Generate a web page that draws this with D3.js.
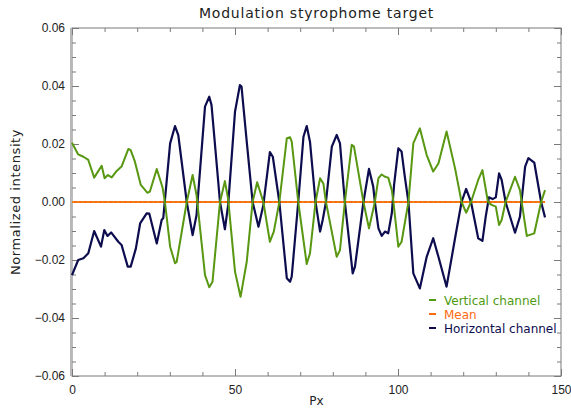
<!DOCTYPE html>
<html>
<head>
<meta charset="utf-8">
<script src="https://cdn.jsdelivr.net/npm/d3@7"></script>
<style>
	body { margin: 0; background: #fff; }
	svg { display: block; font-family: "DejaVu Sans", sans-serif; }
</style>
</head>
<body>
<svg></svg>
<script>
var WIDTH = 571;
var HEIGHT = 409;
var margin = {top: 28, right: 10, bottom: 33, left: 72};

// vertical channel (green)
var vertPx = [0, 1.9, 3.5, 5.0, 6.8, 9.1, 10.0, 11.0, 12.2, 13.7, 15.2, 17.3, 18.0, 19.3, 21.1, 23.1, 23.9, 26.0, 27.8, 28.5,
	30.1, 31.6, 32.1, 35.2, 37.0, 38.2, 40.8, 42.1, 43.1, 45.4, 46.9, 47.9, 50.0, 51.7, 53.6, 55.4, 56.8, 58.7, 60.7, 61.9,
	63.6, 65.9, 66.9, 67.4, 69.4, 72.0, 73.0, 74.7, 76.1, 77.1, 77.9, 81.2, 82.2, 83.7, 85.8, 86.5, 89.4, 91.1, 92.9, 94.0,
	95.0, 96.0, 97.0, 98.1, 98.6, 100.1, 101.1, 103.2, 104.7, 106.7, 108.8, 110.8, 112.4, 114.9, 117.5, 119.5, 120.9, 122.4,
	124.6, 125.9, 127.6, 128.7, 130.0, 131.0, 131.8, 133.0, 135.9, 137.4, 139.5, 141.8, 143.9, 145.1];
var vertVal = [0.0204, 0.0164, 0.0156, 0.0145, 0.0084, 0.0125, 0.0082, 0.0093, 0.0085, 0.0107, 0.0122, 0.0183, 0.0179, 0.0139, 0.0059, 0.0032, 0.0036, 0.0114, 0.0049, 0,
	-0.0154, -0.0211, -0.0207, 0, 0.0093, 0.0024, -0.0252, -0.0294, -0.0275, 0, 0.0072, 0.001, -0.024, -0.0327, -0.0206, 0, 0.0068, 0, -0.0137, -0.0102,
	0, 0.022, 0.0223, 0.0208, 0, -0.0214, -0.0177, 0, 0.0082, 0.0064, 0, -0.0189, -0.0166, 0, 0.0197, 0.0191, 0, -0.0091, 0, 0.0082,
	0.0095, 0.0087, 0.0084, 0.0041, 0, -0.0154, -0.0137, 0, 0.0202, 0.0254, 0.0162, 0.0105, 0.0133, 0.0243, 0.0116, 0, -0.0037, 0,
	0.0076, 0.011, 0, -0.001, -0.0016, -0.0079, -0.0062, 0, 0.0087, 0.0041, -0.0117, -0.0108, 0, 0.0041];

// horizontal channel (navy)
var horzPx = [0, 1.9, 3.5, 5.0, 6.8, 8.9, 9.9, 10.9, 12.0, 14.2, 15.2, 17.1, 18.0, 19.6, 20.9, 22.9, 23.7, 26.0, 27.5, 28.0,
	30.1, 31.6, 32.6, 35.2, 37.0, 38.2, 40.8, 42.1, 42.8, 45.4, 46.9, 47.9, 50.0, 51.5, 52.0, 53.6, 55.4, 57.2, 58.7, 60.7,
	61.6, 63.6, 65.9, 66.9, 67.4, 69.4, 71.0, 72.0, 73.0, 74.7, 76.1, 76.9, 77.9, 79.7, 81.2, 82.2, 83.7, 86.1, 86.8, 89.4,
	91.1, 92.4, 92.9, 94.0, 95.0, 96.0, 97.0, 98.1, 98.8, 100.1, 101.1, 102.1, 103.2, 104.7, 106.7, 108.8, 110.8, 112.4, 114.9,
	117.5, 119.5, 120.9, 122.4, 124.6, 125.9, 126.9, 127.9, 129.0, 130.0, 131.0, 131.8, 133.0, 135.9, 137.4, 139.0, 140.0,
	141.8, 143.9, 145.1];
var horzVal = [-0.0252, -0.020, -0.0194, -0.0177, -0.010, -0.0154, -0.0097, -0.0117, -0.0105, -0.0137, -0.0148, -0.0223, -0.0223, -0.016, -0.0074, -0.0039, -0.004, -0.0143, -0.0062, -0.0055,
	0.0202, 0.0262, 0.0231, 0, -0.0114, -0.0045, 0.0329, 0.0363, 0.0334, 0, -0.0094, -0.001, 0.0311, 0.0403, 0.0398, 0.0208, 0, -0.0085, -0.001, 0.0172,
	0.0156, 0, -0.0263, -0.0275, -0.0257, 0, 0.0225, 0.0262, 0.0208, 0, -0.0102, -0.0062, 0, 0.0191, 0.0231, 0.0202, 0, -0.0246, -0.0223, 0,
	0.0114, 0.0053, 0, -0.0091, -0.0117, -0.0102, -0.0108, -0.0039, 0.0059, 0.0185, 0.0174, 0.0087, 0, -0.0246, -0.0298, -0.0189, -0.0125, -0.0189, -0.0292,
	-0.0125, 0, 0.0045, 0, -0.0125, -0.0134, -0.0051, 0.0016, 0.001, 0.0016, 0.0099, 0.0076, 0, -0.0106, -0.0051, 0.0122, 0.0151,
	0.0136, 0, -0.0053];

// mean (orange)
var meanPx = [0, 145.1];
var meanVal = [0, 0];

var xMajorTicks = [0, 50, 100, 150];
var xMinorTicks = [10, 20, 30, 40, 60, 70, 80, 90, 110, 120, 130, 140];
var yMajorTicks = [-0.06, -0.04, -0.02, 0, 0.02, 0.04, 0.06];
var yMinorTicks = [-0.055, -0.05, -0.045, -0.035, -0.03, -0.025, -0.015, -0.01, -0.005,
	0.005, 0.01, 0.015, 0.025, 0.03, 0.035, 0.045, 0.05, 0.055];

var legendNames = ['Vertical channel', 'Mean', 'Horizontal channel'];
var legendColors = ['#4f9a10', '#ff6a10', '#0c0c4e'];

var svg = d3.select('svg')
	.attr('width', WIDTH)
	.attr('height', HEIGHT);

var x = d3.scaleLinear().domain([0, 150]).range([margin.left, WIDTH - margin.right]);
var y = d3.scaleLinear().domain([-0.06, 0.06]).range([HEIGHT - margin.bottom, margin.top]);

var line = d3.line()
	.x(function(d){ return x(d[0]); })
	.y(function(d){ return y(d[1]); });

var zipUp = function(xs, vs){
	return xs.map(function(v, i){ return [v, vs[i]]; });
};

// axes (ticks point inward, on all 4 sides)
var axisColor = '#7a7a7a';
var drawAxis = function(axis, tx, ty){
	var g = svg.append('g')
		.attr('transform', 'translate(' + tx + ',' + ty + ')')
		.call(axis);
	g.select('.domain').remove();
	g.selectAll('line').attr('stroke', axisColor);
	g.selectAll('text').attr('fill', '#222').style('font-size', '12px');
	return g;
};
var fmtY = d3.format('.2f');
drawAxis(d3.axisBottom(x).tickValues(xMajorTicks).tickSize(-7).tickPadding(9), 0, y(-0.06));
drawAxis(d3.axisBottom(x).tickValues(xMinorTicks).tickSize(-4).tickFormat(''), 0, y(-0.06));
drawAxis(d3.axisTop(x).tickValues(xMajorTicks).tickSize(-7).tickFormat(''), 0, y(0.06));
drawAxis(d3.axisTop(x).tickValues(xMinorTicks).tickSize(-4).tickFormat(''), 0, y(0.06));
drawAxis(d3.axisLeft(y).tickValues(yMajorTicks).tickSize(-7).tickPadding(7).tickFormat(fmtY), x(0), 0);
drawAxis(d3.axisLeft(y).tickValues(yMinorTicks).tickSize(-4).tickFormat(''), x(0), 0);
drawAxis(d3.axisRight(y).tickValues(yMajorTicks).tickSize(-7).tickFormat(''), x(150), 0);
drawAxis(d3.axisRight(y).tickValues(yMinorTicks).tickSize(-4).tickFormat(''), x(150), 0);

// frame
svg.append('rect')
	.attr('x', x(0)).attr('y', y(0.06))
	.attr('width', x(150) - x(0)).attr('height', y(-0.06) - y(0.06))
	.attr('fill', 'none').attr('stroke', axisColor).attr('stroke-width', 1);
svg.append('line')
	.attr('x1', x(0) - 1).attr('x2', x(0) - 1)
	.attr('y1', y(0.06)).attr('y2', y(-0.06))
	.attr('stroke', '#b8b8b8').attr('stroke-width', 2);

// series
svg.append('path').datum(zipUp(meanPx, meanVal))
	.attr('d', line).attr('fill', 'none')
	.attr('stroke', legendColors[1]).attr('stroke-width', 2);
svg.append('path').datum(zipUp(meanPx, meanVal))
	.attr('d', line).attr('fill', 'none')
	.attr('stroke', '#d8a020').attr('stroke-width', 1).attr('stroke-dasharray', '2,3');

svg.append('path').datum(zipUp(horzPx, horzVal))
	.attr('d', line).attr('fill', 'none')
	.attr('stroke', legendColors[2]).attr('stroke-width', 2.2)
	.attr('stroke-linejoin', 'round');

svg.append('path').datum(zipUp(vertPx, vertVal))
	.attr('d', line).attr('fill', 'none')
	.attr('stroke', legendColors[0]).attr('stroke-width', 2)
	.attr('stroke-linejoin', 'round');
svg.append('path').datum(zipUp(vertPx, vertVal))
	.attr('d', line).attr('fill', 'none')
	.attr('stroke', '#e07020').attr('stroke-width', 1).attr('stroke-opacity', 0.45)
	.attr('stroke-dasharray', '1,3');

// legend
var legend = svg.append('g').attr('transform', 'translate(429,300)');
legendNames.forEach(function(name, i){
	var row = legend.append('g').attr('transform', 'translate(0,' + (i * 14) + ')');
	row.append('line')
		.attr('x1', 0).attr('x2', 7).attr('y1', 0).attr('y2', 0)
		.attr('stroke', legendColors[i]).attr('stroke-width', 2);
	row.append('text')
		.attr('x', 15).attr('y', 4.5)
		.attr('fill', legendColors[i])
		.style('font-size', '12px')
		.text(name);
});

// titles
svg.append('text')
	.attr('x', (x(0) + x(150)) / 2).attr('y', 18)
	.attr('text-anchor', 'middle')
	.attr('fill', '#222')
	.style('font-size', '14px')
	.style('letter-spacing', '0.8px')
	.text('Modulation styrophome target');
svg.append('text')
	.attr('x', (x(0) + x(150)) / 2).attr('y', 405)
	.attr('text-anchor', 'middle')
	.attr('fill', '#222')
	.style('font-size', '12px')
	.text('Px');
svg.append('text')
	.attr('transform', 'translate(20,' + y(0) + ') rotate(-90)')
	.attr('text-anchor', 'middle')
	.attr('fill', '#222')
	.style('font-size', '13px')
	.style('letter-spacing', '0.6px')
	.text('Normalized intensity');
</script>
</body>
</html>
